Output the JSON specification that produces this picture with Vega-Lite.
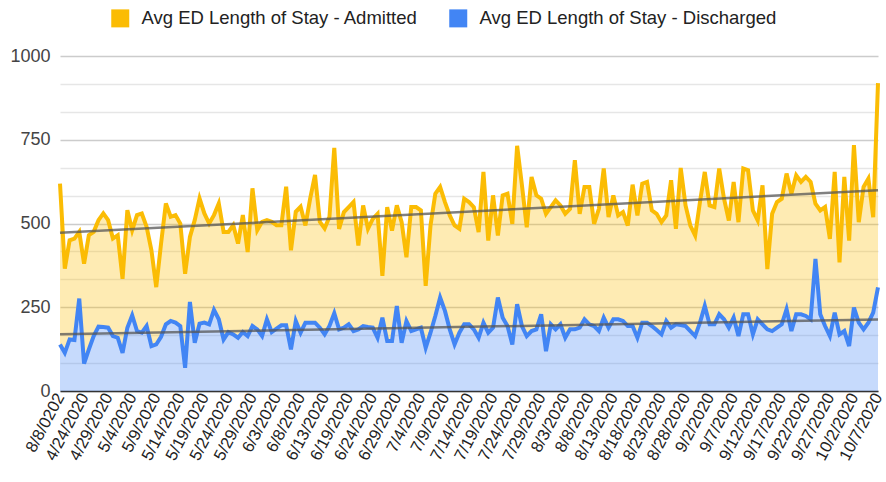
{
  "$schema": "https://vega.github.io/schema/vega-lite/v6.json",
  "width": 818,
  "height": 335,
  "autosize": {"type": "none"},
  "padding": {"left": 60, "top": 56, "right": 8, "bottom": 91},
  "background": "white",
  "config": {"view": {"stroke": null}, "font": "Liberation Sans, Arial, sans-serif", "axisY": {"labelOverlap": false}},
  "datasets": {
    "ed": [
      {"date":"8/8/0202","i":0,"admitted":619,"discharged":139},
      {"date":"4/20/2020","i":1,"admitted":365,"discharged":114},
      {"date":"4/21/2020","i":2,"admitted":450,"discharged":154},
      {"date":"4/22/2020","i":3,"admitted":455,"discharged":152},
      {"date":"4/23/2020","i":4,"admitted":475,"discharged":276},
      {"date":"4/24/2020","i":5,"admitted":380,"discharged":82},
      {"date":"4/25/2020","i":6,"admitted":465,"discharged":124},
      {"date":"4/26/2020","i":7,"admitted":475,"discharged":164},
      {"date":"4/27/2020","i":8,"admitted":510,"discharged":192},
      {"date":"4/28/2020","i":9,"admitted":530,"discharged":191},
      {"date":"4/29/2020","i":10,"admitted":510,"discharged":189},
      {"date":"4/30/2020","i":11,"admitted":455,"discharged":164},
      {"date":"5/1/2020","i":12,"admitted":465,"discharged":159},
      {"date":"5/2/2020","i":13,"admitted":335,"discharged":114},
      {"date":"5/3/2020","i":14,"admitted":540,"discharged":189},
      {"date":"5/4/2020","i":15,"admitted":480,"discharged":226},
      {"date":"5/5/2020","i":16,"admitted":525,"discharged":179},
      {"date":"5/6/2020","i":17,"admitted":530,"discharged":174},
      {"date":"5/7/2020","i":18,"admitted":490,"discharged":194},
      {"date":"5/8/2020","i":19,"admitted":420,"discharged":134},
      {"date":"5/9/2020","i":20,"admitted":310,"discharged":139},
      {"date":"5/10/2020","i":21,"admitted":440,"discharged":162},
      {"date":"5/11/2020","i":22,"admitted":560,"discharged":199},
      {"date":"5/12/2020","i":23,"admitted":520,"discharged":209},
      {"date":"5/13/2020","i":24,"admitted":525,"discharged":204},
      {"date":"5/14/2020","i":25,"admitted":500,"discharged":194},
      {"date":"5/15/2020","i":26,"admitted":350,"discharged":69},
      {"date":"5/16/2020","i":27,"admitted":460,"discharged":266},
      {"date":"5/17/2020","i":28,"admitted":510,"discharged":144},
      {"date":"5/18/2020","i":29,"admitted":575,"discharged":201},
      {"date":"5/19/2020","i":30,"admitted":530,"discharged":204},
      {"date":"5/20/2020","i":31,"admitted":500,"discharged":199},
      {"date":"5/21/2020","i":32,"admitted":525,"discharged":242},
      {"date":"5/22/2020","i":33,"admitted":560,"discharged":214},
      {"date":"5/23/2020","i":34,"admitted":475,"discharged":154},
      {"date":"5/24/2020","i":35,"admitted":475,"discharged":176},
      {"date":"5/25/2020","i":36,"admitted":495,"discharged":169},
      {"date":"5/26/2020","i":37,"admitted":440,"discharged":159},
      {"date":"5/27/2020","i":38,"admitted":525,"discharged":176},
      {"date":"5/28/2020","i":39,"admitted":415,"discharged":164},
      {"date":"5/29/2020","i":40,"admitted":605,"discharged":194},
      {"date":"5/30/2020","i":41,"admitted":480,"discharged":184},
      {"date":"5/31/2020","i":42,"admitted":505,"discharged":164},
      {"date":"6/1/2020","i":43,"admitted":510,"discharged":214},
      {"date":"6/2/2020","i":44,"admitted":505,"discharged":176},
      {"date":"6/3/2020","i":45,"admitted":495,"discharged":186},
      {"date":"6/4/2020","i":46,"admitted":495,"discharged":196},
      {"date":"6/5/2020","i":47,"admitted":610,"discharged":196},
      {"date":"6/6/2020","i":48,"admitted":420,"discharged":124},
      {"date":"6/7/2020","i":49,"admitted":535,"discharged":209},
      {"date":"6/8/2020","i":50,"admitted":550,"discharged":174},
      {"date":"6/9/2020","i":51,"admitted":494,"discharged":204},
      {"date":"6/10/2020","i":52,"admitted":575,"discharged":204},
      {"date":"6/11/2020","i":53,"admitted":645,"discharged":204},
      {"date":"6/12/2020","i":54,"admitted":505,"discharged":189},
      {"date":"6/13/2020","i":55,"admitted":485,"discharged":169},
      {"date":"6/14/2020","i":56,"admitted":520,"discharged":194},
      {"date":"6/15/2020","i":57,"admitted":726,"discharged":232},
      {"date":"6/17/2020","i":58,"admitted":484,"discharged":184},
      {"date":"6/18/2020","i":59,"admitted":534,"discharged":189},
      {"date":"6/19/2020","i":60,"admitted":549,"discharged":199},
      {"date":"6/20/2020","i":61,"admitted":564,"discharged":179},
      {"date":"6/21/2020","i":62,"admitted":434,"discharged":184},
      {"date":"6/22/2020","i":63,"admitted":554,"discharged":194},
      {"date":"6/23/2020","i":64,"admitted":484,"discharged":191},
      {"date":"6/24/2020","i":65,"admitted":514,"discharged":189},
      {"date":"6/25/2020","i":66,"admitted":529,"discharged":159},
      {"date":"6/26/2020","i":67,"admitted":344,"discharged":219},
      {"date":"6/27/2020","i":68,"admitted":549,"discharged":149},
      {"date":"6/28/2020","i":69,"admitted":479,"discharged":149},
      {"date":"6/29/2020","i":70,"admitted":554,"discharged":254},
      {"date":"6/30/2020","i":71,"admitted":504,"discharged":144},
      {"date":"7/1/2020","i":72,"admitted":399,"discharged":209},
      {"date":"7/2/2020","i":73,"admitted":549,"discharged":179},
      {"date":"7/3/2020","i":74,"admitted":549,"discharged":184},
      {"date":"7/4/2020","i":75,"admitted":539,"discharged":189},
      {"date":"7/5/2020","i":76,"admitted":314,"discharged":129},
      {"date":"7/6/2020","i":77,"admitted":494,"discharged":174},
      {"date":"7/7/2020","i":78,"admitted":589,"discharged":224},
      {"date":"7/8/2020","i":79,"admitted":609,"discharged":279},
      {"date":"7/9/2020","i":80,"admitted":564,"discharged":239},
      {"date":"7/10/2020","i":81,"admitted":524,"discharged":184},
      {"date":"7/11/2020","i":82,"admitted":494,"discharged":139},
      {"date":"7/12/2020","i":83,"admitted":484,"discharged":174},
      {"date":"7/13/2020","i":84,"admitted":574,"discharged":199},
      {"date":"7/14/2020","i":85,"admitted":564,"discharged":199},
      {"date":"7/15/2020","i":86,"admitted":549,"discharged":184},
      {"date":"7/16/2020","i":87,"admitted":474,"discharged":159},
      {"date":"7/17/2020","i":88,"admitted":654,"discharged":204},
      {"date":"7/18/2020","i":89,"admitted":449,"discharged":174},
      {"date":"7/19/2020","i":90,"admitted":584,"discharged":189},
      {"date":"7/20/2020","i":91,"admitted":464,"discharged":279},
      {"date":"7/21/2020","i":92,"admitted":584,"discharged":219},
      {"date":"7/22/2020","i":93,"admitted":589,"discharged":194},
      {"date":"7/23/2020","i":94,"admitted":499,"discharged":139},
      {"date":"7/24/2020","i":95,"admitted":732,"discharged":259},
      {"date":"7/25/2020","i":96,"admitted":614,"discharged":194},
      {"date":"7/26/2020","i":97,"admitted":489,"discharged":164},
      {"date":"7/27/2020","i":98,"admitted":639,"discharged":179},
      {"date":"7/28/2020","i":99,"admitted":584,"discharged":184},
      {"date":"7/29/2020","i":100,"admitted":574,"discharged":229},
      {"date":"7/30/2020","i":101,"admitted":529,"discharged":119},
      {"date":"7/31/2020","i":102,"admitted":549,"discharged":199},
      {"date":"8/1/2020","i":103,"admitted":569,"discharged":184},
      {"date":"8/2/2020","i":104,"admitted":554,"discharged":199},
      {"date":"8/3/2020","i":105,"admitted":529,"discharged":159},
      {"date":"8/4/2020","i":106,"admitted":544,"discharged":184},
      {"date":"8/5/2020","i":107,"admitted":689,"discharged":184},
      {"date":"8/6/2020","i":108,"admitted":529,"discharged":189},
      {"date":"8/7/2020","i":109,"admitted":609,"discharged":214},
      {"date":"8/8/2020","i":110,"admitted":609,"discharged":199},
      {"date":"8/9/2020","i":111,"admitted":499,"discharged":194},
      {"date":"8/10/2020","i":112,"admitted":544,"discharged":179},
      {"date":"8/11/2020","i":113,"admitted":664,"discharged":219},
      {"date":"8/12/2020","i":114,"admitted":519,"discharged":189},
      {"date":"8/13/2020","i":115,"admitted":584,"discharged":214},
      {"date":"8/14/2020","i":116,"admitted":524,"discharged":214},
      {"date":"8/15/2020","i":117,"admitted":534,"discharged":209},
      {"date":"8/16/2020","i":118,"admitted":494,"discharged":194},
      {"date":"8/17/2020","i":119,"admitted":616,"discharged":194},
      {"date":"8/18/2020","i":120,"admitted":524,"discharged":159},
      {"date":"8/19/2020","i":121,"admitted":619,"discharged":204},
      {"date":"8/20/2020","i":122,"admitted":624,"discharged":204},
      {"date":"8/21/2020","i":123,"admitted":539,"discharged":194},
      {"date":"8/22/2020","i":124,"admitted":529,"discharged":182},
      {"date":"8/23/2020","i":125,"admitted":504,"discharged":169},
      {"date":"8/24/2020","i":126,"admitted":524,"discharged":209},
      {"date":"8/25/2020","i":127,"admitted":629,"discharged":189},
      {"date":"8/26/2020","i":128,"admitted":484,"discharged":199},
      {"date":"8/27/2020","i":129,"admitted":666,"discharged":197},
      {"date":"8/28/2020","i":130,"admitted":554,"discharged":194},
      {"date":"8/29/2020","i":131,"admitted":494,"discharged":179},
      {"date":"8/30/2020","i":132,"admitted":464,"discharged":164},
      {"date":"8/31/2020","i":133,"admitted":564,"discharged":204},
      {"date":"9/1/2020","i":134,"admitted":654,"discharged":254},
      {"date":"9/2/2020","i":135,"admitted":554,"discharged":199},
      {"date":"9/3/2020","i":136,"admitted":549,"discharged":199},
      {"date":"9/4/2020","i":137,"admitted":664,"discharged":229},
      {"date":"9/5/2020","i":138,"admitted":574,"discharged":214},
      {"date":"9/6/2020","i":139,"admitted":509,"discharged":189},
      {"date":"9/7/2020","i":140,"admitted":624,"discharged":219},
      {"date":"9/8/2020","i":141,"admitted":504,"discharged":164},
      {"date":"9/9/2020","i":142,"admitted":664,"discharged":229},
      {"date":"9/10/2020","i":143,"admitted":659,"discharged":229},
      {"date":"9/11/2020","i":144,"admitted":539,"discharged":169},
      {"date":"9/12/2020","i":145,"admitted":509,"discharged":214},
      {"date":"9/13/2020","i":146,"admitted":614,"discharged":199},
      {"date":"9/14/2020","i":147,"admitted":364,"discharged":184},
      {"date":"9/15/2020","i":148,"admitted":529,"discharged":179},
      {"date":"9/16/2020","i":149,"admitted":564,"discharged":189},
      {"date":"9/17/2020","i":150,"admitted":574,"discharged":199},
      {"date":"9/18/2020","i":151,"admitted":649,"discharged":244},
      {"date":"9/19/2020","i":152,"admitted":589,"discharged":179},
      {"date":"9/20/2020","i":153,"admitted":644,"discharged":229},
      {"date":"9/21/2020","i":154,"admitted":624,"discharged":229},
      {"date":"9/22/2020","i":155,"admitted":639,"discharged":224},
      {"date":"9/23/2020","i":156,"admitted":624,"discharged":214},
      {"date":"9/24/2020","i":157,"admitted":559,"discharged":394},
      {"date":"9/25/2020","i":158,"admitted":539,"discharged":229},
      {"date":"9/26/2020","i":159,"admitted":549,"discharged":194},
      {"date":"9/27/2020","i":160,"admitted":454,"discharged":164},
      {"date":"9/28/2020","i":161,"admitted":654,"discharged":234},
      {"date":"9/29/2020","i":162,"admitted":384,"discharged":169},
      {"date":"9/30/2020","i":163,"admitted":639,"discharged":179},
      {"date":"10/1/2020","i":164,"admitted":449,"discharged":134},
      {"date":"10/2/2020","i":165,"admitted":734,"discharged":249},
      {"date":"10/3/2020","i":166,"admitted":504,"discharged":204},
      {"date":"10/4/2020","i":167,"admitted":609,"discharged":184},
      {"date":"10/5/2020","i":168,"admitted":634,"discharged":204},
      {"date":"10/6/2020","i":169,"admitted":519,"discharged":234},
      {"date":"10/7/2020","i":170,"admitted":919,"discharged":309}
    ]
  },
  "data": {"name": "ed"},
  "layer": [
    {
      "layer": [
        {
          "mark": {"type": "area", "color": "#fbbc04", "opacity": 0.3},
          "encoding": {
            "x": {"field": "date", "type": "nominal", "sort": null, "scale": {"type": "point", "padding": 0},
              "axis": {"values": ["8/8/0202","4/24/2020","4/29/2020","5/4/2020","5/9/2020","5/14/2020","5/19/2020","5/24/2020","5/29/2020","6/3/2020","6/8/2020","6/13/2020","6/19/2020","6/24/2020","6/29/2020","7/4/2020","7/9/2020","7/14/2020","7/19/2020","7/24/2020","7/29/2020","8/3/2020","8/8/2020","8/13/2020","8/18/2020","8/23/2020","8/28/2020","9/2/2020","9/7/2020","9/12/2020","9/17/2020","9/22/2020","9/27/2020","10/2/2020","10/7/2020"],
                "labelAngle": -62, "labelFontSize": 16.5, "labelColor": "#222", "ticks": false, "title": null, "grid": false,
                "domainColor": "#333", "domainWidth": 1.5, "labelPadding": 3, "labelDx": -3, "labelOverlap": false, "labelBound": false}},
            "y": {"field": "admitted", "type": "quantitative", "scale": {"domain": [0, 1000], "nice": false},
              "axis": {"title": null, "domain": false, "ticks": false, "labelPadding": 10, "labelFontSize": 18, "labelColor": "#444",
                "labelOverlap": false, "tickCount": 20,
                "values": [0, 83.333, 166.667, 250, 333.333, 416.667, 500, 583.333, 666.667, 750, 833.333, 916.667, 1000],
                "labelExpr": "(round(datum.value) % 250 == 0) ? format(round(datum.value), 'd') : ''",
                "gridColor": {"condition": {"test": "round(datum.value) % 250 == 0", "value": "#cccccc"}, "value": "#e6e6e6"},
                "gridWidth": 1.5}},
            "y2": {"field": "discharged"}
          }
        },
        {
          "mark": {"type": "area", "color": "#4285f4", "opacity": 0.3},
          "encoding": {
            "x": {"field": "date", "type": "nominal", "sort": null, "scale": {"type": "point", "padding": 0}},
            "y": {"field": "discharged", "type": "quantitative"}
          }
        },
        {
          "transform": [{"fold": ["admitted", "discharged"], "as": ["series", "value"]}],
          "mark": {"type": "line", "strokeWidth": 4},
          "encoding": {
            "x": {"field": "date", "type": "nominal", "sort": null, "scale": {"type": "point", "padding": 0}},
            "y": {"field": "value", "type": "quantitative"},
            "color": {"field": "series", "type": "nominal",
              "scale": {"domain": ["admitted", "discharged"], "range": ["#fbbc04", "#4285f4"]},
              "legend": {"orient": "none", "legendX": 51, "legendY": -47, "direction": "horizontal", "title": null,
                "symbolType": "square", "symbolSize": 324, "symbolStrokeWidth": 0, "labelFontSize": 18.5, "labelColor": "#222",
                "labelOffset": 12, "columnPadding": 31, "labelLimit": 500,
                "labelExpr": "datum.label == 'admitted' ? 'Avg ED Length of Stay - Admitted' : 'Avg ED Length of Stay - Discharged'",
                "encode": {"symbols": {"update": {"fill": {"scale": "color", "field": "value"}, "opacity": {"value": 1}}}}}}
          }
        }
      ]
    },
    {
      "transform": [
        {"fold": ["admitted", "discharged"], "as": ["series", "value"]},
        {"regression": "value", "on": "i", "groupby": ["series"]}
      ],
      "mark": {"type": "line", "color": "#555555", "opacity": 0.75, "strokeWidth": 2.5},
      "encoding": {
        "x": {"field": "i", "type": "quantitative", "scale": {"domain": [0, 170], "nice": false, "zero": false}, "axis": null},
        "y": {"field": "value", "type": "quantitative"},
        "detail": {"field": "series"}
      }
    }
  ],
  "resolve": {"scale": {"x": "independent"}}
}
